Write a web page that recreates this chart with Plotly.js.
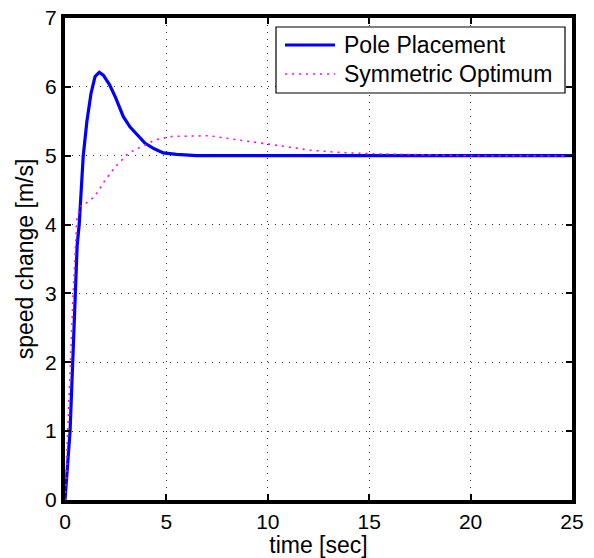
<!DOCTYPE html>
<html>
<head>
<meta charset="utf-8">
<script src="https://cdn.plot.ly/plotly-3.0.1.min.js"></script>
<style>html,body{margin:0;padding:0;background:#fff;}#chart{width:594px;height:558px;}</style>
</head>
<body>
<div id="chart"></div>
<script>
// ---- data ----
const poleTime = [0, 0.1, 0.25, 0.38, 0.53, 0.6, 0.7, 0.78, 0.9, 1.08, 1.28, 1.48, 1.69, 1.89, 2.2, 2.5, 2.87, 3.2, 3.5, 3.95, 4.4, 4.85, 5.5, 6.0, 6.5, 25];
const poleSpeed = [0, 0.45, 1.0, 2.0, 3.0, 3.7, 4.0, 4.45, 5.0, 5.5, 5.9, 6.15, 6.21, 6.17, 6.03, 5.84, 5.57, 5.42, 5.32, 5.18, 5.1, 5.04, 5.02, 5.01, 5.0, 5.0];
const symTime = [0, 0.06, 0.13, 0.27, 0.4, 0.55, 0.59, 0.75, 0.84, 1.1, 1.49, 1.99, 2.48, 3.14, 3.79, 4.45, 5.27, 6.2, 7.1, 8.3, 9.6, 10.7, 12.07, 13.4, 14.9, 16.3, 18, 20, 25];
const symSpeed = [0, 0.5, 1.0, 2.0, 3.0, 4.0, 4.11, 4.24, 4.3, 4.32, 4.42, 4.65, 4.84, 5.04, 5.13, 5.23, 5.28, 5.29, 5.29, 5.24, 5.19, 5.14, 5.08, 5.05, 5.03, 5.02, 5.01, 5.0, 5.0];
const seriesNames = ["Pole Placement", "Symmetric Optimum"];
const xTicks = [0, 5, 10, 15, 20, 25];
const yTicks = [0, 1, 2, 3, 4, 5, 6, 7];
const xLabel = "time [sec]";
const yLabel = "speed change [m/s]";

// ---- layout constants ----
const W = 594, H = 558;
const M = {l: 65, r: 22, t: 18, b: 58};
const PW = W - M.l - M.r, PH = H - M.t - M.b;
const px2x = p => (p - M.l) / PW;
const px2y = p => (H - M.b - p) / PH;
const FONT = "Liberation Sans, Arial, Helvetica, sans-serif";
const BLUE = "#0000ff", MAG = "#ff00ff";

const traces = [
  {x: poleTime, y: poleSpeed, type: "scatter", mode: "lines", name: seriesNames[0],
   line: {color: BLUE, width: 3.2}, showlegend: false},
  {x: symTime, y: symSpeed, type: "scatter", mode: "lines", name: seriesNames[1],
   line: {color: MAG, width: 1.6, dash: "2px,5px"}, showlegend: false}
];

const axisCommon = {
  showline: true, linecolor: "#000", linewidth: 4, mirror: "ticks",
  ticks: "inside", ticklen: 6, tickwidth: 2, tickcolor: "#000",
  showgrid: true, gridcolor: "#333", gridwidth: 1, griddash: "1px,6px",
  zeroline: false, tickfont: {family: FONT, size: 21, color: "#000"},
  fixedrange: true
};

// manual legend (MATLAB style)
const legBox = {x0: 276, x1: 565, y0: 27, y1: 93};
const legRows = [45, 74];
const shapes = [
  {type: "rect", xref: "paper", yref: "paper", layer: "above",
   x0: px2x(legBox.x0), x1: px2x(legBox.x1), y0: px2y(legBox.y1), y1: px2y(legBox.y0),
   fillcolor: "#fff", line: {color: "#000", width: 1.2}},
  {type: "line", xref: "paper", yref: "paper", layer: "above",
   x0: px2x(285), x1: px2x(335), y0: px2y(legRows[0]), y1: px2y(legRows[0]),
   line: {color: BLUE, width: 3.2}},
  {type: "line", xref: "paper", yref: "paper", layer: "above",
   x0: px2x(285), x1: px2x(335), y0: px2y(legRows[1]), y1: px2y(legRows[1]),
   line: {color: MAG, width: 1.6, dash: "2px,5px"}}
];
const annotations = seriesNames.map((n, i) => ({
  text: n, xref: "paper", yref: "paper", x: px2x(342), y: px2y(legRows[i]),
  xanchor: "left", yanchor: "middle", showarrow: false,
  font: {family: FONT, size: 23, color: "#000"}
}));

const layout = {
  width: W, height: H, margin: M,
  paper_bgcolor: "#fff", plot_bgcolor: "#fff",
  font: {family: FONT, color: "#000"},
  xaxis: Object.assign({}, axisCommon, {range: [0, 25], tickvals: xTicks,
    title: {text: xLabel, font: {family: FONT, size: 23, color: "#000"}, standoff: 4}}),
  yaxis: Object.assign({}, axisCommon, {range: [0, 7], tickvals: yTicks,
    title: {text: yLabel, font: {family: FONT, size: 23, color: "#000"}, standoff: 6}}),
  shapes: shapes, annotations: annotations, showlegend: false
};

Plotly.newPlot("chart", traces, layout, {displayModeBar: false, staticPlot: true});
</script>
</body>
</html>
